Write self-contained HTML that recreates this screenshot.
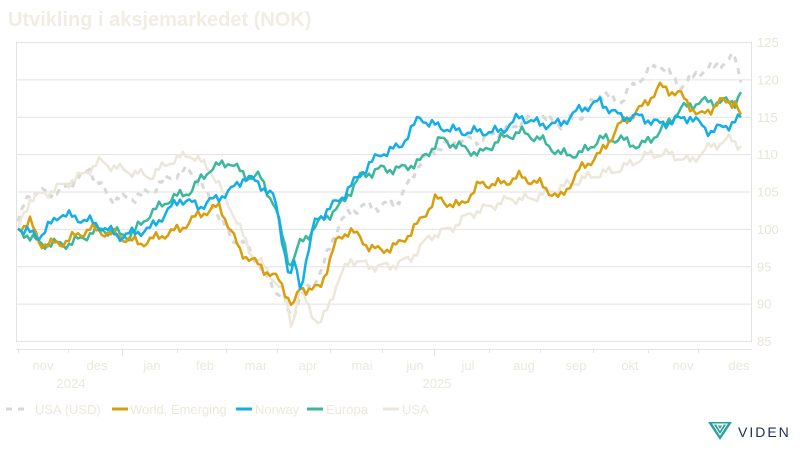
<!DOCTYPE html>
<html><head><meta charset="utf-8">
<style>
html,body{margin:0;padding:0;background:#fff;}
body{width:800px;height:450px;overflow:hidden;font-family:"Liberation Sans",sans-serif;}
</style></head>
<body>
<svg id="s" width="800" height="450" xmlns="http://www.w3.org/2000/svg" font-family="Liberation Sans, sans-serif">
<text x="8" y="26" font-size="20" font-weight="bold" fill="#f0ede2">Utvikling i aksjemarkedet (NOK)</text>
<g id="grid" stroke="#e2e2e2" stroke-width="1"></g>
<g id="ylab" font-size="13" fill="#e8e5d8"></g>
<line x1="16" y1="349.5" x2="752" y2="349.5" stroke="#e4e4e4"/>
<g id="xt" stroke="#e4e4e4"></g>
<g font-size="13" fill="#ebe8dc" text-anchor="middle">
<text x="43" y="370">nov</text><text x="97" y="370">des</text><text x="152" y="370">jan</text><text x="205" y="370">feb</text><text x="256" y="370">mar</text><text x="308" y="370">apr</text><text x="362" y="370">mai</text><text x="415" y="370">jun</text><text x="468" y="370">jul</text><text x="524" y="370">aug</text><text x="576" y="370">sep</text><text x="630" y="370">okt</text><text x="683" y="370">nov</text><text x="739" y="370">des</text>
<text x="71" y="388">2024</text><text x="437" y="388">2025</text>
</g>
<g id="series" fill="none" stroke-linejoin="round"></g>
<g font-size="13" fill="#ebe8dc">
<line x1="6" y1="409" x2="30" y2="409" stroke="#d8d8d8" stroke-width="3" stroke-dasharray="6,6"/>
<text x="35" y="414">USA (USD)</text>
<line x1="112" y1="409" x2="128" y2="409" stroke="#d99e0b" stroke-width="3"/>
<text x="130" y="414">World, Emerging</text>
<line x1="236" y1="409" x2="252" y2="409" stroke="#12aee8" stroke-width="3"/>
<text x="255" y="414">Norway</text>
<line x1="307" y1="409" x2="323" y2="409" stroke="#3bb89b" stroke-width="3"/>
<text x="326" y="414">Europa</text>
<line x1="383" y1="409" x2="399" y2="409" stroke="#ebe7da" stroke-width="3"/>
<text x="402" y="414">USA</text>
</g>
<g transform="translate(708,422)">
<polygon points="0,0 24,0 12,18" fill="#2aa198"/>
<polygon points="5,2 19,2 12,13" fill="none" stroke="#fff" stroke-width="1"/>
<polygon points="9,3 15,3 12,8" fill="none" stroke="#fff" stroke-width="1"/>
<text x="30" y="15" font-size="14" fill="#1f2d4d" letter-spacing="2">VIDEN</text>
</g>
</svg>
<script>
var NS="http://www.w3.org/2000/svg";
function Y(v){return 42+(125-v)*7.475;}
var g=document.getElementById('grid'),yl=document.getElementById('ylab');
for(var v=85;v<=125;v+=5){var l=document.createElementNS(NS,'line');l.setAttribute('x1',16);l.setAttribute('x2',752);l.setAttribute('y1',Y(v)+.5);l.setAttribute('y2',Y(v)+.5);g.appendChild(l);
var t=document.createElementNS(NS,'text');t.setAttribute('x',757);t.setAttribute('y',Y(v)+5);t.textContent=v;yl.appendChild(t);}
var vl=document.createElementNS(NS,'line');vl.setAttribute('x1',16.5);vl.setAttribute('x2',16.5);vl.setAttribute('y1',42);vl.setAttribute('y2',341);g.appendChild(vl);
var vr=document.createElementNS(NS,'line');vr.setAttribute('x1',751.5);vr.setAttribute('x2',751.5);vr.setAttribute('y1',42);vr.setAttribute('y2',341);g.appendChild(vr);
var xt=document.getElementById('xt');
[18,68,122,177,226,277,330,382,434,489,540,593,648,698].forEach(function(x){var l=document.createElementNS(NS,'line');l.setAttribute('x1',x+.5);l.setAttribute('x2',x+.5);l.setAttribute('y1',349);l.setAttribute('y2',x==122||x==434?356:353);xt.appendChild(l);});
function P(s){return s.trim().split(/\s+/).map(function(p){var a=p.split(':');return[+a[0],+a[1]];});}
var S=[
["#d8d8d8","6,6",P("18:101 30:105 60:105 90:108 110:104 130:104 150:105 170:107 190:108 210:104 230:99 250:97 270:93 285:90 292:88 300:91 320:94 340:101 360:103 380:103 400:104 420:109 440:111 460:112 480:112 500:113 520:114 540:115 560:114 580:115 600:118 620:117 640:120 660:122 680:119 700:121 720:122 735:123 742:119"),1],
["#ebe7da","",P("18:100 30:104 50:105 80:107 100:109 120:108 150:107 170:109 190:110 210:108 230:103 250:97 270:94 285:91 292:87 300:92 315:88 320:87 335:92 350:96 370:95 390:95 410:96 430:99 450:100 470:102 490:103 510:104 530:104 550:105 570:106 590:107 620:108 650:110 670:110 690:109 710:111 730:112 742:111"),2],
["#3bb89b","",P("18:100 40:98 70:98 100:100 130:99 150:102 170:104 190:105 210:108 230:109 245:107 260:107 275:103 290:95 300:98 320:101 340:103 360:107 380:108 400:108 420:109 440:112 460:111 480:110 500:112 520:113 540:112 560:110 580:110 600:112 620:112 640:111 660:113 680:116 700:117 720:117 735:117 742:118.5"),3],
["#d99e0b","",P("18:100 30:101 40:98 60:98 90:100 120:99 140:98 160:99 180:100 200:102 220:103 240:97 260:95 280:93 293:89.5 300:92 320:92 335:98 350:100 365:98 380:97 400:98 420:101 435:104 460:103 480:106 500:106 520:107 540:106 560:104 580:108 600:110 620:114 640:116 660:119 680:118 700:115 720:117 735:117 742:115"),4],
["#12aee8","",P("18:100 40:99 60:102 90:101 120:99 150:100 180:104 200:103 230:105 245:107 260:106 275:104 290:93 295:96 300:92 315:101 340:104 365:108 380:110 400:111 420:115 430:114 460:113 500:113 520:115 540:114 560:114 580:116 600:117 620:115 640:115 660:114 690:115 710:113 730:114 742:115"),5]
];
var sg=document.getElementById('series');
S.forEach(function(s){var pts=s[2],out=[];
for(var x=18;x<=742;x+=3){var i=0;while(i<pts.length-2&&pts[i+1][0]<x)i++;var a=pts[i],b=pts[i+1];var t=(x-a[0])/(b[0]-a[0]);var v=a[1]+(b[1]-a[1])*t;
if(x>18&&x<741)v+=0.35*Math.sin(x*0.9+s[3]*3)+0.45*Math.sin(x*0.31+s[3]);
out.push(x+","+Y(v).toFixed(1));}
var pl=document.createElementNS(NS,'polyline');pl.setAttribute('points',out.join(' '));pl.setAttribute('stroke',s[0]);pl.setAttribute('stroke-width',s[1]?3:2.5);if(s[1])pl.setAttribute('stroke-dasharray',s[1]);sg.appendChild(pl);});
</script>
</body></html>
